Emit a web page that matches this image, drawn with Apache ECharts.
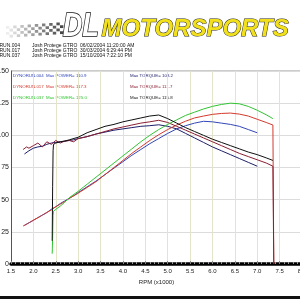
<!DOCTYPE html>
<html>
<head>
<meta charset="utf-8">
<script src="https://cdn.jsdelivr.net/npm/echarts@6/dist/echarts.min.js"></script>
<style>
  html, body { margin: 0; padding: 0; background: #fff; }
  #chart { width: 300px; height: 300px; }
</style>
</head>
<body>
<div id="chart"></div>
<script>
// dyno runs: rpm (x1000), power, torque
const rpm004 = [1.8, 1.9, 2.0, 2.1, 2.2, 2.3, 2.4, 2.5, 2.6, 2.7, 2.8, 2.9, 3.0, 3.2, 3.4, 3.6, 3.8, 4.0, 4.2, 4.4, 4.6, 4.8, 5.0, 5.2, 5.4, 5.6, 5.8, 6.0, 6.2, 6.4, 6.6, 6.8, 7.0]
const power004 = [30, 32, 34, 36, 38, 40, 42.5, 44.5, 47, 49, 51, 53, 55.5, 60, 64.5, 69.5, 74.5, 79.5, 84.5, 89, 93.5, 97.5, 101.5, 105, 107.5, 109.5, 110.9, 110.5, 109.5, 108.5, 107, 104.5, 102]
const torque004 = [85.5, 88, 90, 91, 91.5, 93, 94, 94.5, 95, 95.5, 96, 96.5, 97.5, 99, 101, 102.5, 104, 105, 106, 107, 107.5, 108.2, 107, 105, 101.5, 98, 94.5, 91, 88, 85, 82, 79, 76]

const rpm017 = [1.77, 1.85, 1.9, 2.0, 2.1, 2.2, 2.3, 2.4, 2.5, 2.6, 2.7, 2.8, 2.9, 3.0, 3.2, 3.4, 3.6, 3.8, 4.0, 4.2, 4.4, 4.6, 4.8, 5.0, 5.2, 5.4, 5.6, 5.8, 6.0, 6.2, 6.4, 6.6, 6.8, 7.0, 7.2, 7.35, 7.37]
const power017 = [29.5, 31, 32, 34, 36, 38, 40, 42, 44.5, 46.5, 48.5, 51, 53, 55, 59.5, 64, 69.5, 75, 80.5, 86, 91, 96, 100.5, 104.5, 108, 111, 113.5, 115, 116.3, 117, 117.3, 116.5, 115, 112.5, 110, 108, 0]
const torque017 = [89, 91, 90, 92, 94, 91, 95, 93, 96, 94, 95.5, 96, 95, 97.5, 99, 101, 103, 105, 106.5, 108, 109.5, 110.5, 111.7, 110, 107, 104, 101, 98, 95, 92, 89, 86, 83.5, 81, 78.5, 76, 0]

const rpm037 = [2.42, 2.43, 2.44, 2.45, 2.5, 2.6, 2.7, 2.8, 3.0, 3.2, 3.4, 3.6, 3.8, 4.0, 4.2, 4.4, 4.6, 4.8, 5.0, 5.2, 5.4, 5.6, 5.8, 6.0, 6.2, 6.4, 6.6, 6.8, 7.0, 7.2, 7.35]
const power037 = [8, 20, 38, 41, 42.5, 45, 48, 51.5, 56.5, 62, 67.5, 73, 78.5, 84, 89.5, 95, 100, 104.5, 108.5, 112, 115.5, 118, 120.5, 122.5, 124, 125, 124.5, 122.5, 119.5, 116, 113]
const torque037 = [18, 60, 88, 93, 94, 95, 95.5, 96.5, 98.5, 102, 104.5, 107, 108.5, 110.5, 112, 113.5, 115, 115.8, 113, 109.5, 106, 103, 100, 97, 94.5, 92, 89.5, 87, 85, 82.5, 80.5]

const runNames = ['DYNORUN.004', 'DYNORUN.017', 'DYNORUN.037']
const runDates = ['06/02/2004 11:20:00 AM', '30/03/2004 6:29:44 PM', '15/10/2004 7:22:10 PM']
const maxPower = ['110.9', '117.3', '125.0']
const maxTorque = ['108.2', '111.7', '115.8']

const powerColors = ['#3347b8', '#d23a2e', '#33c433']
const torqueColors = ['#1e1f6a', '#8a1f33', '#111111']

const fontFamily = 'Liberation Sans, Arial, sans-serif'

function pairs(xs, ys) {
  return xs.map((x, i) => [x, ys[i]])
}

function line(name, data, color) {
  return {
    name,
    type: 'line',
    data,
    showSymbol: false,
    silent: true,
    lineStyle: { color, width: 1 },
    z: 3,
  }
}

// header + logo + legend texts
const graphic = []

// checkered flag fading to the left
for (let c = 0; c < 16; c++) {
  for (let r = 0; r < 4; r++) {
    if ((c + r) % 2) continue
    graphic.push({
      type: 'rect',
      shape: { x: 6 + c * 3.6, y: 26 + r * 3 - c * 0.25, width: 3.4, height: 2.8 },
      style: { fill: '#222', opacity: 0.08 + c * 0.05 },
      silent: true,
    })
  }
}
graphic.push({
  type: 'text', left: 62, top: 9, scaleX: 0.8,
  style: { text: 'DL', font: 'italic bold 34px ' + fontFamily, fill: '#fff', stroke: '#111', lineWidth: 1.6 },
})
graphic.push({
  type: 'text', left: 101, top: 17,
  style: { text: 'MOTORSPORTS', font: 'italic bold 24px ' + fontFamily, fill: '#f2e01a', stroke: '#222', lineWidth: 1 },
})

runNames.forEach((name, i) => {
  const y = 43 + i * 5.3
  const font = '5px ' + fontFamily
  graphic.push({ type: 'text', x: 20, y, style: { text: name, font, fill: '#111', align: 'right' } })
  graphic.push({ type: 'text', x: 32, y, style: { text: 'Josh Protege GTRO', font, fill: '#111' } })
  graphic.push({ type: 'text', x: 80, y, style: { text: runDates[i], font, fill: '#111' } })

  const ly = 74 + i * 11
  const lf = '4.4px ' + fontFamily
  graphic.push({ type: 'text', x: 13, y: ly, style: { text: name, font: lf, fill: powerColors[i] } })
  graphic.push({ type: 'text', x: 46, y: ly, style: { text: 'Max POWER= ' + maxPower[i], font: lf, fill: powerColors[i] } })
  graphic.push({ type: 'text', x: 130, y: ly, style: { text: 'Max TORQUE= ' + maxTorque[i], font: lf, fill: torqueColors[i] } })
})

graphic.push({ type: 'line', shape: { x1: 11, y1: 71, x2: 300, y2: 71 }, style: { stroke: '#999', lineWidth: 1 } })
graphic.push({ type: 'rect', shape: { x: 0, y: 296, width: 300, height: 3 }, style: { fill: '#111' } })

const chart = echarts.init(document.getElementById('chart'))
chart.setOption({
  animation: false,
  backgroundColor: '#fff',
  textStyle: { fontFamily },
  grid: { left: 11, right: -2, top: 71, bottom: 36, outerBoundsMode: 'none', containLabel: false },
  xAxis: {
    type: 'value',
    min: 1.5,
    max: 8.0,
    interval: 0.5,
    name: 'RPM (x1000)',
    nameLocation: 'middle',
    nameGap: 8,
    nameTextStyle: { fontSize: 6, color: '#222' },
    offset: 1.5,
    axisLine: { show: true, lineStyle: { color: '#000', width: 3.5 } },
    axisTick: { show: true, inside: true, length: 3, lineStyle: { color: '#888' } },
    minorTick: { show: true, splitNumber: 5, length: 2, lineStyle: { color: '#999' } },
    axisLabel: { fontSize: 6, color: '#222', margin: 3, formatter: v => v.toFixed(1) },
    splitLine: { show: true, lineStyle: { color: '#e4e4c8', width: 1 } },
  },
  yAxis: {
    type: 'value',
    min: 0,
    max: 150,
    interval: 25,
    axisLine: { show: true, lineStyle: { color: '#555', width: 1 } },
    axisTick: { show: false },
    axisLabel: { fontSize: 7, color: '#222', margin: 2 },
    splitLine: { show: true, lineStyle: { color: '#dcdcdc', width: 1 } },
  },
  graphic,
  series: [
    line('004 power', pairs(rpm004, power004), powerColors[0]),
    line('004 torque', pairs(rpm004, torque004), torqueColors[0]),
    line('017 power', pairs(rpm017, power017), powerColors[1]),
    line('017 torque', pairs(rpm017, torque017), torqueColors[1]),
    line('037 power', pairs(rpm037, power037), powerColors[2]),
    line('037 torque', pairs(rpm037, torque037), torqueColors[2]),
  ],
})
</script>
</body>
</html>
